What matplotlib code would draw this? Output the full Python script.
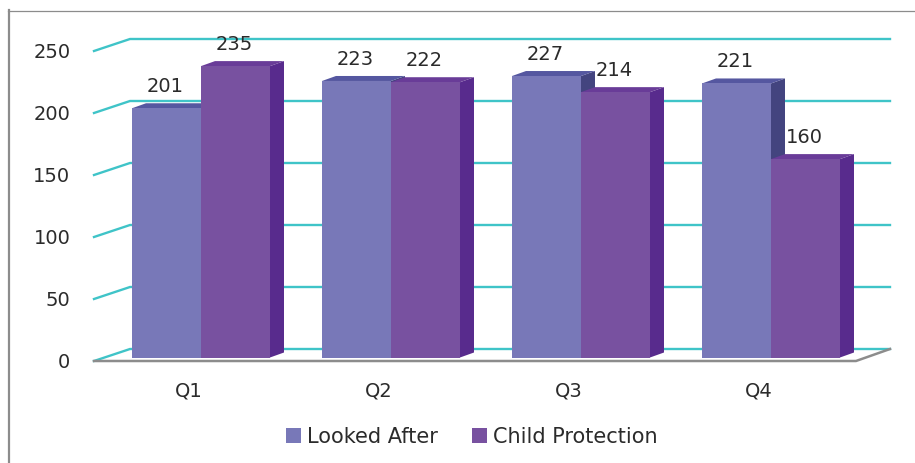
import matplotlib
matplotlib.use("Agg")
import matplotlib.pyplot as plt
from matplotlib.lines import Line2D
from matplotlib.patches import Polygon, Patch

quarters = ["Q1", "Q2", "Q3", "Q4"]
looked_after = [201, 223, 227, 221]
child_protection = [235, 222, 214, 160]
y_ticks = [0, 50, 100, 150, 200, 250]

WIDTH, HEIGHT = 915, 463
LEFT, RIGHT, BASE, TOP = 94, 854, 361, 51
PX_X = (RIGHT - LEFT) / 4   # pixels per category
PX_Y = (BASE - TOP) / 250   # pixels per unit


def dx(px):
    return px / PX_X


def dy(px):
    return px / PX_Y


TEAL = "#3FC4C8"
GREY = "#8C8C8C"
TEXT = "#2B2B2B"
FONT = "DejaVu Sans"
SIZE = 14
LEGEND_SIZE = 15

fig = plt.figure(figsize=(WIDTH / 100, HEIGHT / 100), dpi=100)
ax = fig.add_axes([LEFT / WIDTH, 1 - BASE / HEIGHT,
                   (RIGHT - LEFT) / WIDTH, (BASE - TOP) / HEIGHT])
ax.set_xlim(-0.5, 3.5)
ax.set_ylim(0, 250)
ax.patch.set_alpha(0)
for spine in ax.spines.values():
    spine.set_visible(False)

# Back wall grid with its slanted returns to the front plane
wall_x, wall_y = dx(36), dy(12)
x0, x1 = -0.5, 3.5
for tick in y_ticks:
    ax.plot([x0, x0 + wall_x, x1 + wall_x], [tick, tick + wall_y, tick + wall_y],
            color=TEAL, lw=1.7, clip_on=False, zorder=1, solid_joinstyle="miter")

# Floor edges
ax.plot([x0, x1 + dx(2), x1 + wall_x], [0, 0, wall_y],
        color=GREY, lw=1.8, clip_on=False, zorder=1.5)

# Bars as extruded boxes: side and top faces sit behind each front face
bar_w = 69 / PX_X
off_x, off_y = dx(12), dy(3.5)
depth_x, depth_y = dx(14), dy(5)


def draw_box(left, value, front, top, side, z):
    l, r = left + off_x, left + off_x + bar_w
    b, t = off_y, value + off_y
    ax.add_patch(Polygon([(r, b), (r + depth_x, b + depth_y),
                          (r + depth_x, t + depth_y), (r, t)],
                         closed=True, fc=side, ec="none", zorder=z, clip_on=False))
    ax.add_patch(Polygon([(l, t), (l + depth_x, t + depth_y),
                          (r + depth_x, t + depth_y), (r, t)],
                         closed=True, fc=top, ec="none", zorder=z, clip_on=False))
    ax.add_patch(Polygon([(l, b), (r, b), (r, t), (l, t)],
                         closed=True, fc=front, ec="none", zorder=z + 0.1, clip_on=False))
    ax.annotate(str(value), ((l + r) / 2, t), xytext=(-1, 15.8),
                textcoords="offset points", ha="center", va="center",
                fontsize=SIZE, family=FONT, color=TEXT, zorder=6,
                annotation_clip=False)


BLUE = ("#7878B8", "#5557A0", "#43447F")
PURPLE = ("#7851A0", "#693C98", "#582B8D")
for i, (a, b) in enumerate(zip(looked_after, child_protection)):
    draw_box(i - bar_w, a, *BLUE, z=2 + i)
    draw_box(i, b, *PURPLE, z=2.5 + i)

ax.set_xticks(range(4), quarters)
ax.set_yticks(y_ticks)
ax.tick_params(axis="both", length=0, labelsize=SIZE, labelcolor=TEXT)
ax.tick_params(axis="y", pad=17)
ax.tick_params(axis="x", pad=14.5)

ax.legend(handles=[Patch(fc=BLUE[0], label="Looked After"),
                   Patch(fc=PURPLE[0], label="Child Protection")],
          loc="center", bbox_to_anchor=(472 / WIDTH, 1 - 437 / HEIGHT),
          bbox_transform=fig.transFigure, ncol=2, frameon=False,
          prop={"family": FONT, "size": LEGEND_SIZE}, labelcolor=TEXT,
          handlelength=0.7, handleheight=0.7, handletextpad=0.3, columnspacing=1.65)

# Picture border: left and top edges only
fig.add_artist(Line2D([8.5 / WIDTH, 8.5 / WIDTH], [0, 1 - 10 / HEIGHT],
                      color=GREY, lw=1.6))
fig.add_artist(Line2D([8 / WIDTH, 1], [1 - 10.5 / HEIGHT] * 2, color=GREY, lw=0.9))

fig.savefig("out.png", dpi=100)
